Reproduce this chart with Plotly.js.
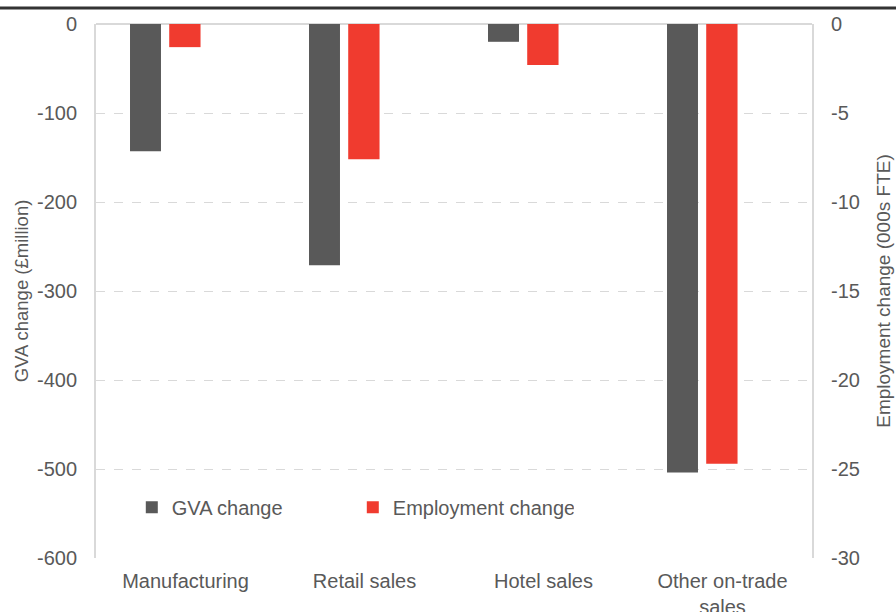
<!DOCTYPE html>
<html>
<head>
<meta charset="utf-8">
<script src="https://cdn.plot.ly/plotly-3.0.1.min.js"></script>
<style>
html,body{margin:0;padding:0;background:#fff;}
#chart{width:896px;height:612px;}
</style>
</head>
<body>
<div id="chart"></div>
<script>
const categories = ["Manufacturing", "Retail sales", "Hotel sales", "Other on-trade<br>sales"];
const gvaChange = [-143, -271, -20, -504];          // £million
const employmentChange = [-1.3, -7.6, -2.3, -24.7];  // 000s FTE
const gvaTicks = [0, -100, -200, -300, -400, -500, -600];
const empTicks = [0, -5, -10, -15, -20, -25, -30];

const fontFam = 'Arial, "Liberation Sans", sans-serif';
const txt = '#595959';
const grid = '#d9d9d9';

const traces = [
  {
    type: 'bar', name: 'GVA change', x: categories, y: gvaChange,
    yaxis: 'y', offset: -0.31, width: 0.173,
    marker: {color: '#595959', line: {width: 0}}
  },
  {
    type: 'bar', name: 'Employment change', x: categories, y: employmentChange,
    yaxis: 'y2', offset: -0.091, width: 0.175,
    marker: {color: '#f03b2f', line: {width: 0}}
  }
];

const layout = {
  width: 896, height: 612,
  margin: {l: 96, r: 84, t: 24, b: 54},
  paper_bgcolor: '#fff', plot_bgcolor: '#fff',
  font: {family: fontFam, size: 20, color: txt},
  barmode: 'overlay',
  showlegend: true,
  legend: {
    orientation: 'h', x: 0.05, y: 0.095, xanchor: 'left', yanchor: 'middle',
    bgcolor: 'rgba(0,0,0,0)', font: {size: 20, color: txt},
    entrywidth: 176, entrywidthmode: 'pixels', traceorder: 'normal'
  },
  xaxis: {
    type: 'category', range: [-0.5, 3.5], showgrid: false, zeroline: false,
    showline: false, ticks: '', tickfont: {size: 20, color: txt},
    ticklabelstandoff: 9, fixedrange: true
  },
  yaxis: {
    range: [-600, 0], tickvals: gvaTicks, ticktext: gvaTicks.map(String),
    showgrid: true, gridcolor: grid, griddash: 'dash', gridwidth: 1,
    zeroline: true, zerolinecolor: grid, zerolinewidth: 2,
    showline: true, linecolor: grid, linewidth: 2,
    ticks: '', ticklabelstandoff: 13, tickfont: {size: 20, color: txt},
    title: {text: 'GVA change (£million)', font: {size: 18.5, color: txt}, standoff: 3},
    fixedrange: true
  },
  yaxis2: {
    range: [-30, 0], tickvals: empTicks, ticktext: empTicks.map(String),
    overlaying: 'y', side: 'right', showgrid: false, zeroline: false,
    showline: true, linecolor: grid, linewidth: 2,
    ticks: '', ticklabelstandoff: 13, tickfont: {size: 20, color: txt},
    title: {text: 'Employment change (000s FTE)', font: {size: 19, color: txt}, standoff: 18},
    fixedrange: true
  },
  shapes: [
    {type: 'line', xref: 'paper', yref: 'paper', x0: -0.14, x1: 1.13, y0: 1.030, y1: 1.030,
     line: {color: '#333333', width: 3}}
  ]
};

Plotly.newPlot('chart', traces, layout, {displayModeBar: false, staticPlot: true});
</script>
</body>
</html>
